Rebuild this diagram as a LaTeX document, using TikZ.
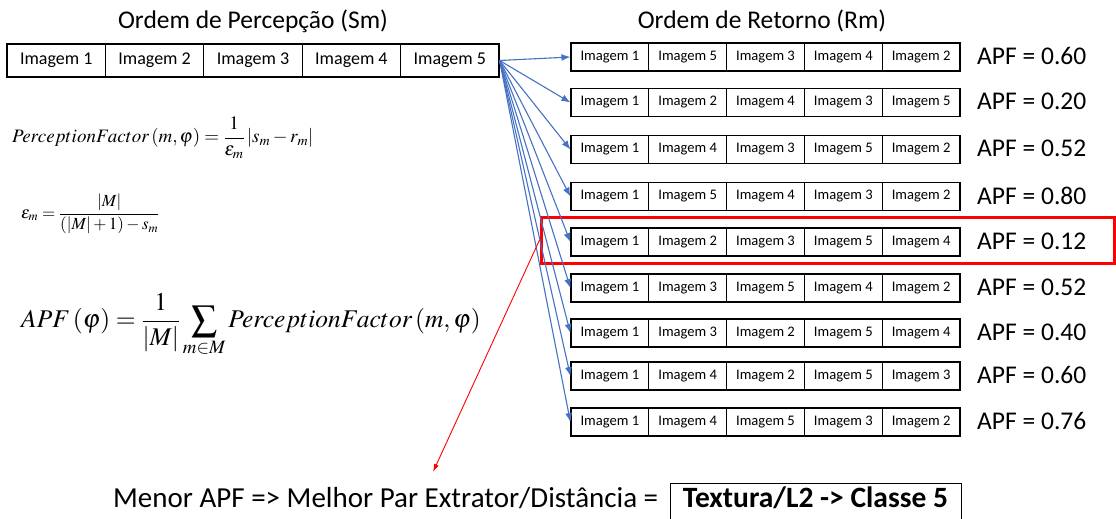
\documentclass[tikz,border=0pt]{standalone}
\usepackage{amsmath}
\usepackage{mathptmx}
\usepackage[no-math]{fontspec}
\setmainfont{Carlito}
\usetikzlibrary{arrows.meta}
\definecolor{arrowblue}{HTML}{4472C4}
\definecolor{selred}{HTML}{FF0000}
\tikzset{
  cellL/.style={draw, line width=1.2pt, minimum width=98.4pt, minimum height=33pt, inner sep=0pt, font=\fontsize{18}{21}\selectfont},
  cellR/.style={draw, line width=1.2pt, minimum width=77.8pt, minimum height=28pt, inner sep=0pt, font=\fontsize{14.6}{17}\selectfont},
  titletext/.style={font=\fontsize{25.5}{30}\selectfont, inner sep=0pt},
  apftext/.style={font=\fontsize{25.5}{30}\selectfont, anchor=west, inner sep=0pt},
  formula/.style={anchor=west, inner sep=0pt},
  link/.style={draw=arrowblue, line width=1.1pt, -{Latex[length=9pt,width=7pt]}},
  selbox/.style={draw=selred, line width=3pt, minimum width=573pt, minimum height=46pt, inner sep=0pt},
  pointer/.style={draw=selred, line width=0.9pt, -{Latex[length=8pt,width=5pt]}},
  bottomtext/.style={font=\fontsize{29}{34}\selectfont, anchor=west, inner sep=0pt},
  resultbox/.style={draw, line width=0.8pt, minimum width=291pt, minimum height=38pt, inner sep=0pt},
  resulttext/.style={font=\fontsize{29.5}{34}\selectfont\bfseries, inner sep=0pt},
}
\begin{document}
\begin{tikzpicture}[x=1pt, y=-1pt]
\useasboundingbox (0,0) rectangle (1116,519);

% titles
\node[titletext] (tleft) at (253,21) {Ordem de Percepção (Sm)};
\node[titletext] (tright) at (762,21) {Ordem de Retorno (Rm)};

% perception order
\foreach \j in {1,...,5} {
  \node[cellL] (L\j) at ({7+98.4*(\j-0.5)},60.5) {Imagem \j};
}

% selection box
\node[selbox] (sel) at (827.5,240) {};

% return orders
\foreach \i/\y/\order/\val in {
  1/57/{1,5,3,4,2}/0.60,
  2/102.5/{1,2,4,3,5}/0.20,
  3/149.5/{1,4,3,5,2}/0.52,
  4/196.5/{1,5,4,3,2}/0.80,
  5/242/{1,2,3,5,4}/0.12,
  6/288/{1,3,5,4,2}/0.52,
  7/333/{1,3,2,5,4}/0.40,
  8/376/{1,4,2,5,3}/0.60,
  9/422/{1,4,5,3,2}/0.76} {
  \foreach \k [count=\j] in \order {
    \node[cellR] (r\i-\j) at ({571+77.8*(\j-0.5)},\y) {Imagem \k};
  }
  \node[apftext] (apf\i) at (977,\y-1) {APF = \val};
}

% arrows
\foreach \i in {1,...,9} {
  \draw[link] (L5.east) -- (r\i-1.west);
}

% pointer
\coordinate (ptip) at (433,472);
\draw[pointer] (sel.west) -- (ptip);

% formulas
\node[formula, font=\fontsize{19}{23}\selectfont] (f1) at (12,138)
  {$PerceptionFactor\,(m,\varphi)=\dfrac{1}{\varepsilon_m}\,|s_m-r_m|$};
\node[formula, font=\fontsize{17}{20}\selectfont] (f2) at (21,214)
  {$\varepsilon_m=\dfrac{|M|}{(|M|+1)-s_m}$};
\node[formula, font=\fontsize{25.5}{30}\selectfont] (f3) at (21,325)
  {$\displaystyle APF\,(\varphi)=\frac{1}{|M|}\sum_{m\in M}PerceptionFactor\,(m,\varphi)$};

% bottom
\node[bottomtext] (concl) at (113,498) {Menor APF => Melhor Par Extrator/Distância =};
\node[resultbox] (res) at (815.5,502) {};
\node[resulttext] (restext) at (815.5,498) {Textura/L2 -> Classe 5};
\end{tikzpicture}
\end{document}
